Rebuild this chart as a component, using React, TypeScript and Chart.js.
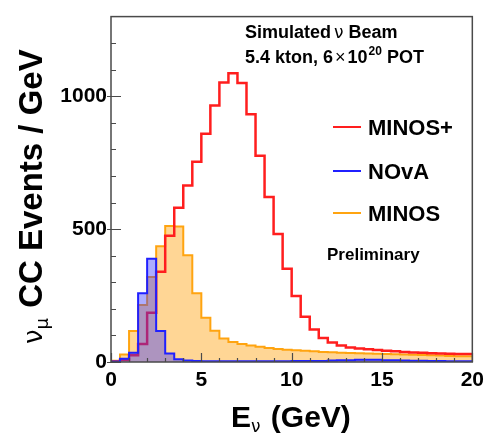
import React, { useEffect, useRef } from "react";
import { Chart, registerables } from "chart.js";

Chart.register(...registerables);

// Lower edges of the 0.5 GeV energy bins (GeV)
const binLow = [
  0, 0.5, 1, 1.5, 2, 2.5, 3, 3.5, 4, 4.5, 5, 5.5, 6, 6.5, 7, 7.5, 8, 8.5, 9, 9.5,
  10, 10.5, 11, 11.5, 12, 12.5, 13, 13.5, 14, 14.5, 15, 15.5, 16, 16.5, 17, 17.5, 18, 18.5, 19, 19.5,
];
const histEnd = 20;

// Events / GeV per bin
const minosPlus = [
  2, 8, 25, 68, 185, 340, 475, 581, 664, 754, 859, 965, 1052, 1087, 1050, 932, 776, 621, 482, 351,
  248, 170, 122, 90, 73, 62, 55, 51, 48, 45, 42, 40, 38, 36, 35, 33, 32, 31, 30, 30,
];
const nova = [
  2, 12, 35, 259, 389, 117, 32, 10, 6, 4, 3, 3, 3, 3, 3, 3, 3, 3, 3, 3,
  4, 4, 4, 4, 6, 7, 7, 8, 8, 8, 7, 7, 6, 5, 5, 4, 4, 3, 3, 3,
];
const minos = [
  5, 28, 117, 215, 320, 436, 512, 510, 402, 259, 167, 118, 88, 75, 68, 62, 57, 53, 49, 46,
  44, 42, 40, 38, 37, 35, 34, 33, 32, 31, 30, 29, 28, 27, 26, 25, 24, 23, 22, 22,
];

const seriesNames = ["MINOS+", "NOvA", "MINOS"];
const xTickLabels = [0, 5, 10, 15, 20];
const yTickLabels = [0, 500, 1000];

const RED = "#ff1e1e";
const BLUE = "#2020ff";
const ORANGE = "#ffa410";

function toSteps(vals: number[]) {
  const pts = binLow.map((x, i) => ({ x, y: vals[i] }));
  pts.push({ x: histEnd, y: vals[vals.length - 1] });
  return pts;
}

type Part = { t: string; font: string; dy?: number; dx?: number };
function drawRich(ctx: CanvasRenderingContext2D, x: number, y: number, parts: Part[]) {
  let cx = x;
  for (const p of parts) {
    ctx.font = p.font;
    cx += p.dx || 0;
    ctx.fillText(p.t, cx, y + (p.dy || 0));
    cx += ctx.measureText(p.t).width;
  }
}

const SANS = "'Liberation Sans', Arial, Helvetica, sans-serif";
const GREEK = "'DejaVu Sans', 'Liberation Sans', sans-serif";

const decor = {
  id: "decor",
  afterDatasetsDraw(chart: any) {
    const { ctx, chartArea } = chart;
    const { left, right, top, bottom } = chartArea;
    const xs = chart.scales.x;
    const ys = chart.scales.y;
    ctx.save();
    // frame
    ctx.strokeStyle = "#4a4a4a";
    ctx.lineWidth = 1.5;
    ctx.strokeRect(left, top, right - left, bottom - top);
    ctx.beginPath();
    ctx.lineWidth = 1.2;
    // y ticks (inward), major every 500, minor every 100
    for (let v = ys.min; v < ys.max; v += 100) {
      const py = Math.round(ys.getPixelForValue(v)) + 0.5;
      const major = v % 500 === 0;
      ctx.moveTo(major ? left - 4 : left, py);
      ctx.lineTo(left + (major ? 10 : 5), py);
    }
    // x ticks (inward), major every 5, minor every 1
    for (let v = xs.min; v <= xs.max; v += 1) {
      const px = Math.round(xs.getPixelForValue(v)) + 0.5;
      const major = v % 5 === 0;
      ctx.moveTo(px, bottom);
      ctx.lineTo(px, bottom - (major ? 9 : 4));
    }
    ctx.stroke();
    ctx.restore();
  },
  afterDraw(chart: any) {
    const { ctx } = chart;
    ctx.save();
    ctx.fillStyle = "#000";
    ctx.textBaseline = "alphabetic";
    ctx.textAlign = "left";

    // header text
    drawRich(ctx, 245, 38, [
      { t: "Simulated", font: `bold 18px ${SANS}` },
      { t: "\u03BD", font: `17px ${GREEK}`, dx: 3 },
      { t: " Beam", font: `bold 18px ${SANS}` },
    ]);
    drawRich(ctx, 245, 63, [
      { t: "5.4 kton, 6", font: `bold 18px ${SANS}` },
      { t: "\u00D7", font: `18px ${SANS}`, dx: 2 },
      { t: "10", font: `bold 18px ${SANS}`, dx: 2 },
      { t: "20", font: `bold 12px ${SANS}`, dy: -8, dx: 1 },
      { t: " POT", font: `bold 18px ${SANS}` },
    ]);

    // legend
    const legendColors = [RED, BLUE, ORANGE];
    const legendY = [127, 171, 213];
    seriesNames.forEach((name, i) => {
      ctx.strokeStyle = legendColors[i];
      ctx.lineWidth = 2;
      ctx.beginPath();
      ctx.moveTo(333, legendY[i]);
      ctx.lineTo(361, legendY[i]);
      ctx.stroke();
      ctx.font = `bold 22px ${SANS}`;
      ctx.fillText(name, 368, legendY[i] + 8);
    });
    ctx.font = `bold 17px ${SANS}`;
    ctx.fillText("Preliminary", 327, 260);

    // x title
    drawRich(ctx, 231, 427, [
      { t: "E", font: `bold 30px ${SANS}` },
      { t: "\u03BD", font: `17px ${GREEK}`, dy: 5 },
      { t: " (GeV)", font: `bold 30px ${SANS}`, dx: 2 },
    ]);

    // y title
    ctx.translate(42, 344);
    ctx.rotate(-Math.PI / 2);
    drawRich(ctx, 0, 0, [
      { t: "\u03BD", font: `26px ${GREEK}` },
      { t: "\u03BC", font: `18px ${GREEK}`, dy: 6 },
      { t: " CC Events / GeV", font: `bold 33px ${SANS}`, dx: 1 },
    ]);
    ctx.restore();
  },
};

export default function App() {
  const ref = useRef<HTMLCanvasElement>(null);
  useEffect(() => {
    if (!ref.current) return;
    const chart = new Chart(ref.current, {
      type: "line",
      data: {
        datasets: [
          {
            label: seriesNames[2],
            data: toSteps(minos),
            stepped: "before",
            borderColor: ORANGE,
            backgroundColor: "rgba(255, 165, 20, 0.45)",
            borderWidth: 2,
            fill: "origin",
            pointRadius: 0,
            order: 3,
          },
          {
            label: seriesNames[0],
            data: toSteps(minosPlus),
            stepped: "before",
            borderColor: RED,
            borderWidth: 2.5,
            fill: false,
            pointRadius: 0,
            order: 2,
          },
          {
            label: seriesNames[1],
            data: toSteps(nova),
            stepped: "before",
            borderColor: BLUE,
            backgroundColor: "rgba(50, 50, 255, 0.4)",
            borderWidth: 2,
            fill: "origin",
            pointRadius: 0,
            order: 1,
          },
        ],
      },
      options: {
        responsive: false,
        animation: false,
        devicePixelRatio: 1,
        layout: { padding: { left: 0, top: 11, right: 12, bottom: 0 } },
        plugins: { legend: { display: false }, tooltip: { enabled: false } },
        scales: {
          x: {
            type: "linear",
            min: 0,
            max: 20,
            grid: { display: false, drawTicks: false },
            border: { display: false },
            afterBuildTicks: (s: any) => {
              s.ticks = xTickLabels.map((v) => ({ value: v }));
            },
            ticks: {
              autoSkip: false,
              padding: 6,
              color: "#000",
              font: { family: SANS, weight: "bold", size: 21 },
              callback: (v: any) => String(v),
              maxRotation: 0,
            },
            afterFit: (s: any) => {
              s.height = 74;
            },
          },
          y: {
            type: "linear",
            min: 0,
            max: 1300,
            grid: { display: false, drawTicks: false },
            border: { display: false },
            afterBuildTicks: (s: any) => {
              s.ticks = yTickLabels.map((v) => ({ value: v }));
            },
            ticks: {
              autoSkip: false,
              padding: 4,
              color: "#000",
              font: { family: SANS, weight: "bold", size: 21 },
              callback: (v: any) => String(v),
            },
            afterFit: (s: any) => {
              s.width = 111;
            },
          },
        },
      },
      plugins: [decor],
    } as any);
    return () => chart.destroy();
  }, []);
  return (
    <div style={{ position: "absolute", left: 0, top: 0, width: 490, height: 436, background: "#fff" }}>
      <canvas ref={ref} width={490} height={436} style={{ display: "block" }} />
    </div>
  );
}
